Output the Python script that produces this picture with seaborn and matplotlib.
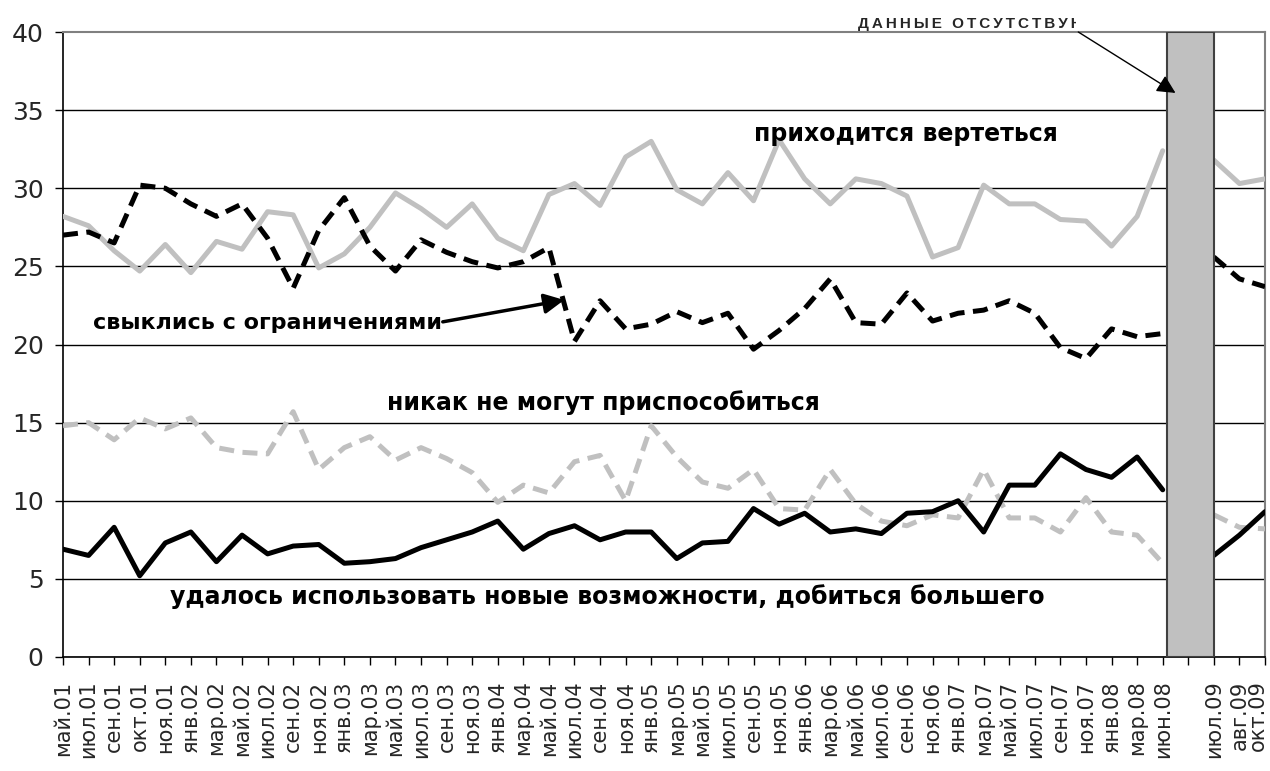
import numpy as np
import pandas as pd
import seaborn as sns
import matplotlib.pyplot as plt
from matplotlib.transforms import Bbox, TransformedBbox, ScaledTranslation

# ---- data (48 categories, 45th has no data) ----
months = ['май.01', 'июл.01', 'сен.01', 'окт.01', 'ноя.01', 'янв.02', 'мар.02', 'май.02',
          'июл.02', 'сен.02', 'ноя.02', 'янв.03', 'мар.03', 'май.03', 'июл.03', 'сен.03',
          'ноя.03', 'янв.04', 'мар.04', 'май.04', 'июл.04', 'сен.04', 'ноя.04', 'янв.05',
          'мар.05', 'май.05', 'июл.05', 'сен.05', 'ноя.05', 'янв.06', 'мар.06', 'май.06',
          'июл.06', 'сен.06', 'ноя.06', 'янв.07', 'мар.07', 'май.07', 'июл.07', 'сен.07',
          'ноя.07', 'янв.08', 'мар.08', 'июн.08', '', 'июл.09', 'авг.09', 'окт.09']

vertetsya = [28.2, 27.6, 26.0, 24.7, 26.4, 24.6, 26.6, 26.1, 28.5, 28.3, 24.9, 25.8,
             27.5, 29.7, 28.7, 27.5, 29.0, 26.8, 26.0, 29.6, 30.3, 28.9, 32.0, 33.0,
             29.9, 29.0, 31.0, 29.2, 33.1, 30.6, 29.0, 30.6, 30.3, 29.5, 25.6, 26.2,
             30.2, 29.0, 29.0, 28.0, 27.9, 26.3, 28.2, 32.4, np.nan, 31.8, 30.3, 30.6]

svyklis = [27.0, 27.2, 26.5, 30.2, 30.0, 29.0, 28.2, 29.0, 26.8, 23.6, 27.3, 29.4,
           26.3, 24.7, 26.7, 25.9, 25.3, 24.9, 25.3, 26.2, 20.2, 22.8, 21.0, 21.3,
           22.1, 21.4, 22.0, 19.7, 20.9, 22.3, 24.2, 21.4, 21.3, 23.3, 21.5, 22.0,
           22.2, 22.8, 22.0, 19.8, 19.1, 21.0, 20.5, 20.7, np.nan, 25.6, 24.2, 23.7]

nikak = [14.8, 15.0, 13.9, 15.3, 14.6, 15.3, 13.4, 13.1, 13.0, 15.7, 12.0, 13.4,
         14.1, 12.6, 13.4, 12.7, 11.8, 9.9, 11.0, 10.5, 12.5, 12.9, 10.0, 14.8,
         12.8, 11.2, 10.8, 12.0, 9.5, 9.4, 12.0, 9.8, 8.7, 8.4, 9.1, 8.9,
         12.0, 8.9, 8.9, 8.0, 10.2, 8.0, 7.8, 6.0, np.nan, 9.1, 8.3, 8.2]

udalos = [6.9, 6.5, 8.3, 5.2, 7.3, 8.0, 6.1, 7.8, 6.6, 7.1, 7.2, 6.0,
          6.1, 6.3, 7.0, 7.5, 8.0, 8.7, 6.9, 7.9, 8.4, 7.5, 8.0, 8.0,
          6.3, 7.3, 7.4, 9.5, 8.5, 9.2, 8.0, 8.2, 7.9, 9.2, 9.3, 10.0,
          8.0, 11.0, 11.0, 13.0, 12.0, 11.5, 12.8, 10.7, np.nan, 6.5, 7.8, 9.3]

series_names = ['приходится вертеться', 'свыклись с ограничениями',
                'никак не могут приспособиться',
                'удалось использовать новые возможности, добиться большего']

# grey block "no data"
gap_start, gap_end = 43.15, 45.0

# long table, split into segments before / after the gap
rows = []
for name, vals in zip(series_names, [vertetsya, svyklis, nikak, udalos]):
    for i, v in enumerate(vals):
        if not np.isnan(v):
            rows.append({'idx': i, 'value': v, 'series': name, 'seg': 0 if i < gap_start else 1})
df = pd.DataFrame(rows)

sns.set_theme(style='white')
plt.rcParams['font.family'] = ['DejaVu Sans']

fig = plt.figure(figsize=(12.7, 7.71), dpi=100)
ax = fig.add_axes([63 / 1270, 1 - 657 / 771, 1202 / 1270, 625 / 771])

LIGHT = '#C0C0C0'
dash = (0, (3.0, 1.7))
styles = [(LIGHT, '-'), ('black', dash), (LIGHT, dash), ('black', '-')]

for name, (col, ls) in zip(series_names, styles):
    sns.lineplot(data=df[df['series'] == name], x='idx', y='value', units='seg',
                 estimator=None, sort=False, color=col, lw=3.6, linestyle=ls,
                 legend=False, ax=ax, zorder=3)

ax.axvspan(gap_start, gap_end, facecolor=LIGHT, edgecolor='#404040', lw=1.5, zorder=4)

ax.set_xlim(0, len(months) - 1)
ax.set_ylim(0, 40)
ax.set_xticks(range(len(months)))
ax.set_xticklabels(months, rotation=90, fontsize=15)
ax.set_yticks(range(0, 41, 5))
ax.tick_params(axis='y', labelsize=18, length=6, width=1, direction='out', color='black', pad=8, left=True)
ax.tick_params(axis='x', length=6, width=1, direction='out', color='black', pad=11, bottom=True)
ax.set_xlabel('')
ax.set_ylabel('')

# last label sits at the right edge: nudge it a little to the left
last = ax.get_xticklabels()[-1]
last.set_transform(last.get_transform() + ScaledTranslation(-5 / 72, 0, fig.dpi_scale_trans))

ax.yaxis.grid(True, color='black', lw=1)
ax.get_ygridlines()[-1].set_visible(False)
ax.set_axisbelow(True)
for side in ['left', 'bottom']:
    ax.spines[side].set_color('black')
    ax.spines[side].set_linewidth(1.2)
for side in ['top', 'right']:
    ax.spines[side].set_color('#808080')
    ax.spines[side].set_linewidth(1.5)

# labels of the series
lab_kw = dict(fontweight='bold', color='black', zorder=6)
ax.text(32.97, 33.5, series_names[0], ha='center', va='center', fontsize=17, **lab_kw)
ax.text(14.8, 21.4, series_names[1], ha='right', va='center', fontsize=16, **lab_kw)
ax.text(21.15, 16.26, series_names[2], ha='center', va='center', fontsize=17, **lab_kw)
ax.text(21.3, 3.84, series_names[3], ha='center', va='center', fontsize=17, **lab_kw)

ax.annotate('', xy=(19.6, 22.85), xytext=(14.85, 21.45),
            arrowprops=dict(arrowstyle='-|>', color='black', lw=2.5, mutation_scale=30,
                            shrinkA=0, shrinkB=0), zorder=6)

# "no data" note, cut off at the right like in the original
note = '\u2009'.join('ДАННЫЕ ОТСУТСТВУЮТ')
t = fig.text(858 / 1270, 1 - 28 / 771, note, fontsize=11, fontweight='bold',
             family=['Liberation Sans', 'DejaVu Sans'], ha='left', va='baseline')
t.set_clip_box(TransformedBbox(Bbox([[0.6, 0.9], [1076 / 1270, 1.0]]), fig.transFigure))
t.set_clip_on(True)

ax.annotate('', xy=(43.5, 36.1), xytext=(39.7, 40.0),
            arrowprops=dict(arrowstyle='-|>', color='black', lw=1, mutation_scale=28,
                            shrinkA=0, shrinkB=0),
            annotation_clip=False, zorder=7)

fig.savefig('out.png', dpi=100)
